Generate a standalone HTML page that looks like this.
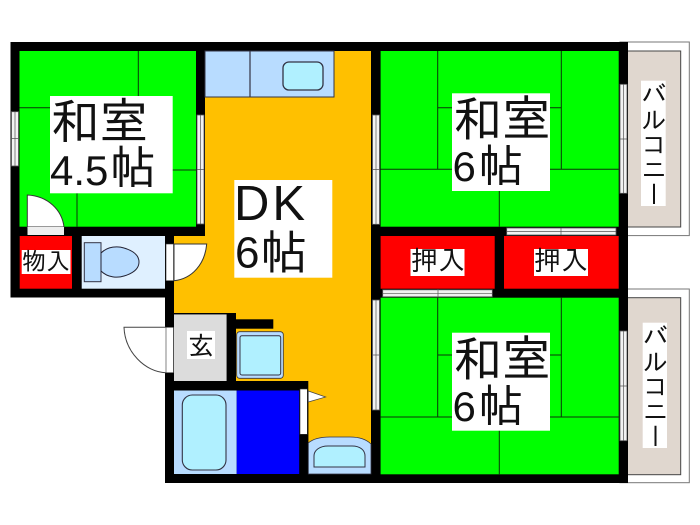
<!DOCTYPE html>
<html lang="ja"><head><meta charset="utf-8"><style>
html,body{margin:0;padding:0;background:#fff;width:700px;height:525px;overflow:hidden}
svg{display:block}
text{font-family:"Liberation Sans","IPAGothic","Noto Sans CJK JP",sans-serif;fill:#111}
.t{stroke:#0b330b;stroke-width:1;fill:none}
.w{fill:#f2f2f2;stroke:#555;stroke-width:.8}
</style></head><body>
<svg width="700" height="525" viewBox="0 0 700 525" xmlns="http://www.w3.org/2000/svg">
<rect width="700" height="525" fill="#fff"/>
<!-- balconies -->
<rect x="620" y="42" width="69.3" height="193.6" fill="#fff" stroke="#777" stroke-width="1"/>
<rect x="620" y="51" width="60.7" height="176" fill="#e0d7cf" stroke="#444" stroke-width="1"/>
<rect x="620" y="289" width="69.3" height="193.7" fill="#fff" stroke="#777" stroke-width="1"/>
<rect x="620" y="297.7" width="60.7" height="177" fill="#e0d7cf" stroke="#444" stroke-width="1"/>
<!-- walls -->
<path d="M10.5 42H628V483H165V297.5H10.5Z" fill="#000"/>
<!-- rooms -->
<rect x="19.5" y="51" width="176.5" height="175.7" fill="#00ff00"/>
<rect x="380.6" y="51" width="238.1" height="175.7" fill="#00ff00"/>
<rect x="380.6" y="297.7" width="238.1" height="176.6" fill="#00ff00"/>
<rect x="380.6" y="236" width="114.1" height="52.7" fill="#ff0000"/>
<rect x="504" y="236" width="114.7" height="52.7" fill="#ff0000"/>
<rect x="19.7" y="236" width="52.3" height="52.7" fill="#ff0000"/>
<!-- DK -->
<path d="M205 51H371V474H308.3V390.5H236V381H236V313H174V236H205Z" fill="#ffc000"/>
<rect x="205" y="51" width="129" height="46" fill="#b8dcff" stroke="#334" stroke-width="1"/>
<line x1="250" y1="51" x2="250" y2="97" stroke="#334" stroke-width="1.2"/>
<rect x="283" y="62" width="40" height="28" rx="6" fill="#b0f0ff" stroke="#334" stroke-width="1.3"/>
<!-- tatami lines -->
<path class="t" d="M138.3 51V96M19.5 107.7H50M172 170H196M77 193V226.7"/>
<path class="t" d="M437.7 51V169.3M561.3 51V169.3M380.6 169.3H618.7M499.3 169.3V226.7M437.7 107.7H561.3"/>
<path class="t" d="M437.7 297.7V417M561.3 297.7V417M380.6 417H618.7M499.3 417V474.3M437.7 355H561.3"/>
<!-- toilet -->
<rect x="81.7" y="236" width="83.3" height="52.7" fill="#dff0ff"/>
<rect x="84.3" y="242.7" width="16.7" height="39" fill="#b8dcff" stroke="#334" stroke-width="1"/>
<path d="M101 253C108 246 118 246 124 248C134 251 139 256 139 262C139 268 134 273 124 276C118 278 108 278 101 271Z" fill="#b8dcff" stroke="#223" stroke-width="1"/>
<!-- entry -->
<rect x="174" y="314.3" width="52.7" height="66.7" fill="#dcdcdc"/>
<rect x="226.7" y="313" width="9.3" height="77" fill="#000"/>
<rect x="174" y="313" width="52.7" height="1.3" fill="#000"/>
<rect x="236" y="319.3" width="37.3" height="9.4" fill="#000"/>
<rect x="174" y="381" width="134.3" height="9.5" fill="#000"/>
<rect x="236.7" y="331.7" width="46.6" height="46.6" rx="3" fill="#b8dcff" stroke="#334" stroke-width=".8"/>
<rect x="240" y="335.7" width="40.7" height="39.3" rx="2" fill="#b0f0ff" stroke="#334" stroke-width="1"/>
<!-- bath -->
<rect x="174" y="390.5" width="62.7" height="83.5" fill="#b8dcff"/>
<rect x="182.3" y="395" width="43.7" height="75" rx="10" fill="#b0f0ff" stroke="#334" stroke-width="1.1"/>
<rect x="236.7" y="390.5" width="62.6" height="83.5" fill="#0000ff"/>
<rect x="299.3" y="390.5" width="9" height="83.5" fill="#000"/>
<!-- basin -->
<path d="M308.3 443C314 438 322 437 330 437H350C358 437 366 439 371 444V474H308.3Z" fill="#b8dcff" stroke="#334" stroke-width=".8"/>
<path d="M314 467V456C314 450 320 446 328 446H352C360 446 365 450 365 456V467Z" fill="#b0f0ff" stroke="#334" stroke-width="1"/>
<!-- doors -->
<path d="M27.3 195C48 196 62 210 64 227H27.3Z" fill="#fff" stroke="#333" stroke-width="1"/>
<rect x="27.5" y="227" width="36.5" height="8" fill="#eee"/>
<rect x="166" y="244" width="7.5" height="36.7" fill="#fff" stroke="#333" stroke-width=".6"/>
<path d="M174 280.7V244H206.7C205 264 192 279 174 280.7Z" fill="#fff" stroke="#333" stroke-width="1"/>
<path d="M166 327.3H124C125 352 145 372 166 372.7" fill="#fff" stroke="#444" stroke-width="1"/>
<rect x="166" y="327.3" width="7.5" height="45.4" fill="#fff" stroke="#333" stroke-width=".6"/>
<rect x="300" y="389" width="7.3" height="45.3" fill="#fff" stroke="#333" stroke-width=".6"/>
<path d="M308.3 391L325.7 397L308.3 402Z" fill="#fff" stroke="#444" stroke-width=".7"/>
<!-- windows -->
<rect class="w" x="11.5" y="111.7" width="7" height="54.3"/><path d="M15 112V166M11 138.5H19" stroke="#555" stroke-width=".7"/>
<rect class="w" x="197" y="115" width="7" height="109"/><path d="M200.5 115V224M197 169.5H204" stroke="#555" stroke-width=".7"/>
<rect class="w" x="372.5" y="115" width="7" height="109.3"/><path d="M376 115V224M372 169.5H380" stroke="#555" stroke-width=".7"/>
<rect class="w" x="372.5" y="300" width="7" height="110"/><path d="M376 300V410M372 355H380" stroke="#555" stroke-width=".7"/>
<rect class="w" x="620" y="84.3" width="7" height="109"/><path d="M623.5 84V193M620 139H627" stroke="#555" stroke-width=".7"/>
<rect class="w" x="620" y="331" width="7" height="109.7"/><path d="M623.5 331V441M620 386H627" stroke="#555" stroke-width=".7"/>
<rect class="w" x="506.7" y="228" width="109.3" height="7"/><path d="M507 231.5H616M561 228V235" stroke="#555" stroke-width=".7"/>
<rect class="w" x="382.7" y="289.8" width="109.6" height="7"/><path d="M383 293.3H492M438 289V297" stroke="#555" stroke-width=".7"/>
<!-- label backgrounds -->
<rect x="50" y="96" width="122.7" height="97.3" fill="#fff"/>
<rect x="452" y="93.3" width="98" height="97.7" fill="#fff"/>
<rect x="452" y="332.7" width="98" height="98" fill="#fff"/>
<rect x="234.3" y="180" width="98" height="97.7" fill="#fff"/>
<rect x="21.7" y="250" width="48.8" height="24" fill="#fff"/>
<rect x="410.5" y="249" width="54" height="27" fill="#fff"/>
<rect x="534" y="249" width="54" height="27" fill="#fff"/>
<rect x="187" y="331" width="28" height="28" fill="#fff"/>
<rect x="641" y="80.7" width="24.7" height="125.3" fill="#fff"/>
<rect x="642.7" y="322.7" width="24.3" height="125.3" fill="#fff"/>
<!-- text -->
<text x="50.5" y="138.5" font-size="49">和室</text>
<text x="50" y="185" font-size="42">4.5</text>
<text x="110" y="184" font-size="46">帖</text>
<text x="453" y="136" font-size="49">和室</text>
<text x="452.5" y="181" font-size="42">6</text>
<text x="478.5" y="182" font-size="45">帖</text>
<text x="453" y="376" font-size="49">和室</text>
<text x="452.5" y="421" font-size="42">6</text>
<text x="478.5" y="422" font-size="45">帖</text>
<text x="234" y="220" font-size="49" letter-spacing="3">DK</text>
<text x="235" y="267.5" font-size="44">6</text>
<text x="260.5" y="269" font-size="47">帖</text>
<text x="22" y="270" font-size="24">物入</text>
<text x="411" y="270" font-size="27">押入</text>
<text x="534" y="270" font-size="27">押入</text>
<text x="188" y="355" font-size="26">玄</text>
<text x="653.5" y="81" font-size="25" writing-mode="vertical-rl" text-anchor="start">バルコニー</text>
<text x="655" y="323" font-size="25" writing-mode="vertical-rl" text-anchor="start">バルコニー</text>
</svg>
</body></html>
